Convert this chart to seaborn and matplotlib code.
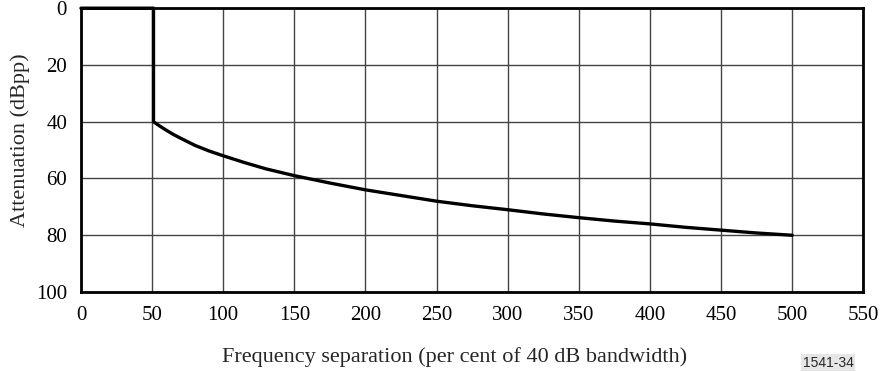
import matplotlib
matplotlib.use("Agg")
import matplotlib.pyplot as plt
import seaborn as sns
import pandas as pd

# mask
freq = [0, 51, 51, 55, 60, 65, 70, 80, 90, 100, 115, 130, 150, 175, 200, 225, 250,
        275, 300, 325, 350, 375, 400, 425, 450, 475, 500]
atten = [0, 0, 40, 41.4, 43, 44.5, 45.8, 48.3, 50.3, 52, 54.4, 56.6, 59, 61.6, 64, 66, 68,
         69.6, 71, 72.5, 73.8, 75, 76, 77.2, 78.2, 79.2, 80]
xticks = [0, 50, 100, 150, 200, 250, 300, 350, 400, 450, 500, 550]
yticks = [0, 20, 40, 60, 80, 100]

df = pd.DataFrame({"freq": freq, "atten": atten})

sns.set_style("white")
plt.rcParams['font.family'] = ['Liberation Serif', 'DejaVu Serif']

fig = plt.figure(figsize=(8.8, 3.72), dpi=100)
ax = fig.add_axes([0.092, 0.215, 0.889, 0.763])

sns.lineplot(data=df, x="freq", y="atten", ax=ax, color="black", linewidth=2.4,
             sort=False, estimator=None, zorder=5)
for ln in ax.get_lines():
    ln.set_clip_on(False)

ax.set_xlim(0, 550)
ax.set_ylim(100, 0)
ax.set_xticks(xticks)
ax.set_yticks(yticks)
ax.grid(True, color="#444444", linewidth=1.0)
for s in ax.spines.values():
    s.set_linewidth(2)
    s.set_color("black")
ax.tick_params(axis="both", length=0, labelsize=15, colors="black")
ax.tick_params(axis="x", pad=10)
ax.tick_params(axis="y", pad=10)
ax.set_xlabel("")
ax.set_ylabel("")

fig.text(0.517, 0.027, "Frequency separation (per cent of 40 dB bandwidth)",
         fontsize=16, ha="center", va="baseline")
fig.text(0.023, 0.624, "Attenuation (dBpp)", fontsize=16, rotation=90,
         ha="center", va="center")

fig.text(0.941, 0.006, "1541-34", fontsize=10, ha="center", va="bottom",
         family=["Liberation Sans", "DejaVu Sans"],
         bbox=dict(facecolor="#e6e6e6", edgecolor="none", pad=1))

fig.savefig("out.png", dpi=100)
